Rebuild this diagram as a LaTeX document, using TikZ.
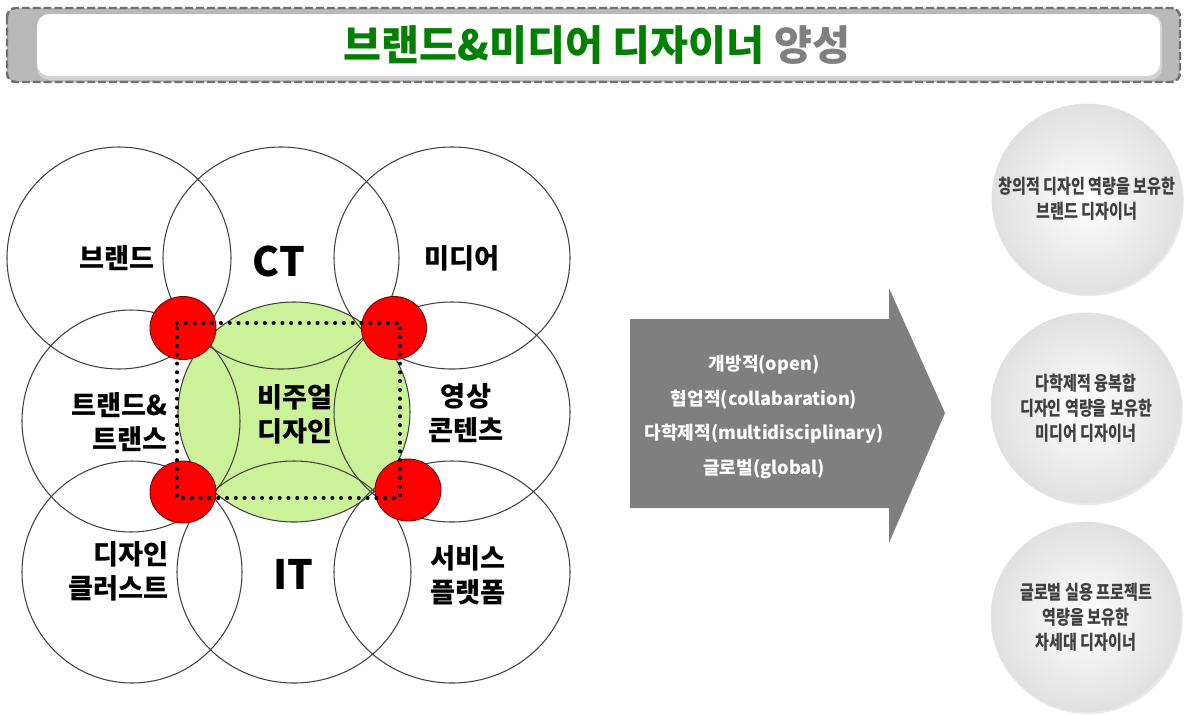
\documentclass[tikz,border=0pt]{standalone}
\usepackage{fontspec}
\setmainfont{Noto Sans CJK KR}
\newfontfamily\narrowfont{Noto Sans CJK KR}[FakeStretch=0.78]
\usetikzlibrary{shadows}
\definecolor{titlegreen}{RGB}{0,128,0}
\definecolor{venngreen}{RGB}{204,242,153}
\definecolor{arrowgray}{RGB}{127,127,127}
\definecolor{bubbletext}{RGB}{64,64,64}
\definecolor{rimgray}{RGB}{112,112,112}
\begin{document}
\begin{tikzpicture}[x=0.02cm,y=-0.02cm,
    ring/.style={black!75,line width=0.6pt},
    joint/.style={fill=red,draw=red!45!black,line width=0.5pt},
    label/.style={inner sep=0,align=center,font=\bfseries\fontsize{15.5}{19.5}\selectfont},
    biglabel/.style={inner sep=0,font=\bfseries\fontsize{23}{26}\selectfont},
    bubble/.style={circle,minimum size=3.8cm,inner sep=0,align=center,
      inner color=white,outer color=gray!24,draw=gray!22,line width=0.4pt,
      drop shadow={shadow xshift=1pt,shadow yshift=-1.2pt,opacity=0.18},
      text=bubbletext,font=\narrowfont\bfseries\fontsize{11}{14.2}\selectfont}]
    \useasboundingbox (0,0) rectangle (1186,714);
    % TITLE BOX
    \draw[rimgray,line width=1.4pt,dash pattern=on 4.5pt off 1.7pt,fill=gray!55,rounded corners=5pt] (7,8) rectangle (1180,82);
    \fill[gray!35,rounded corners=7pt] (37,14) rectangle (1162,80);
    \fill[white,rounded corners=7pt] (37,14) rectangle (1160,76);
    \node[inner sep=0,font=\bfseries\fontsize{23.5}{26}\selectfont] (title) at (597,45)
      {\textcolor{titlegreen}{브랜드\&미디어 디자이너} \textcolor{arrowgray}{양성}};
    % GREEN CENTER
    \fill[venngreen] (294,412) ellipse [x radius=116, y radius=110];
    % RINGS
    \draw[ring] (119,258) ellipse [x radius=112, y radius=111];
    \draw[ring] (281,258) ellipse [x radius=118, y radius=111];
    \draw[ring] (452,258) ellipse [x radius=118, y radius=111];
    \draw[ring] (131,421) ellipse [x radius=109, y radius=111];
    \draw[ring] (294,412) ellipse [x radius=116, y radius=110];
    \draw[ring] (452,412) ellipse [x radius=118, y radius=110];
    \draw[ring] (132,572) ellipse [x radius=110, y radius=111];
    \draw[ring] (294,572) ellipse [x radius=117, y radius=111];
    \draw[ring] (452,572) ellipse [x radius=118, y radius=111];
    % RED JOINTS
    \draw[joint] (183,328) ellipse [x radius=33, y radius=31.5];
    \draw[joint] (394,328) ellipse [x radius=32.5, y radius=31.5];
    \draw[joint] (183,492) ellipse [x radius=33, y radius=31];
    \draw[joint] (408,490) ellipse [x radius=33, y radius=31];
    % DOTTED FRAME
    \draw[black,line width=2.3pt,line cap=round,dash pattern=on 0pt off 5pt] (177,323) -- (400,323) -- (400,498) -- (177,498) -- cycle;
    % LABELS
    \node[label] (brand) at (117,258) {브랜드};
    \node[biglabel] (ct) at (279,261) {CT};
    \node[label] (media) at (462,258) {미디어};
    \node[label,align=right,anchor=east] (trend) at (168,422) {트랜드\&\\트랜스};
    \node[label] (visual) at (295,414) {비주얼\\디자인};
    \node[label] (video) at (466,413) {영상\\콘텐츠};
    \node[label,align=right,anchor=east] (cluster) at (169,571) {디자인\\클러스트};
    \node[biglabel] (it) at (293,574) {IT};
    \node[label] (service) at (468,575) {서비스\\플랫폼};
    % ARROW
    \fill[arrowgray] (630,319) -- (889,319) -- (889,288) -- (945,413) -- (889,543) -- (889,508) -- (630,508) -- cycle;
    \node[inner sep=0,align=center,text=white,font=\bfseries\fontsize{10.3}{19.8}\selectfont] (values) at (764,417)
      {개방적(open)\\협업적(collabaration)\\다학제적(multidisciplinary)\\글로벌(global)};
    % BUBBLES
    \node[bubble] (brandpro) at (1087,199) {창의적 디자인 역량을 보유한\\브랜드 디자이너};
    \node[bubble] (mediapro) at (1086,408) {다학제적 융복합\\디자인 역량을 보유한\\미디어 디자이너};
    \node[bubble] (nextpro) at (1086,617) {글로벌 실용 프로젝트\\역량을 보유한\\차세대 디자이너};
\end{tikzpicture}
\end{document}
